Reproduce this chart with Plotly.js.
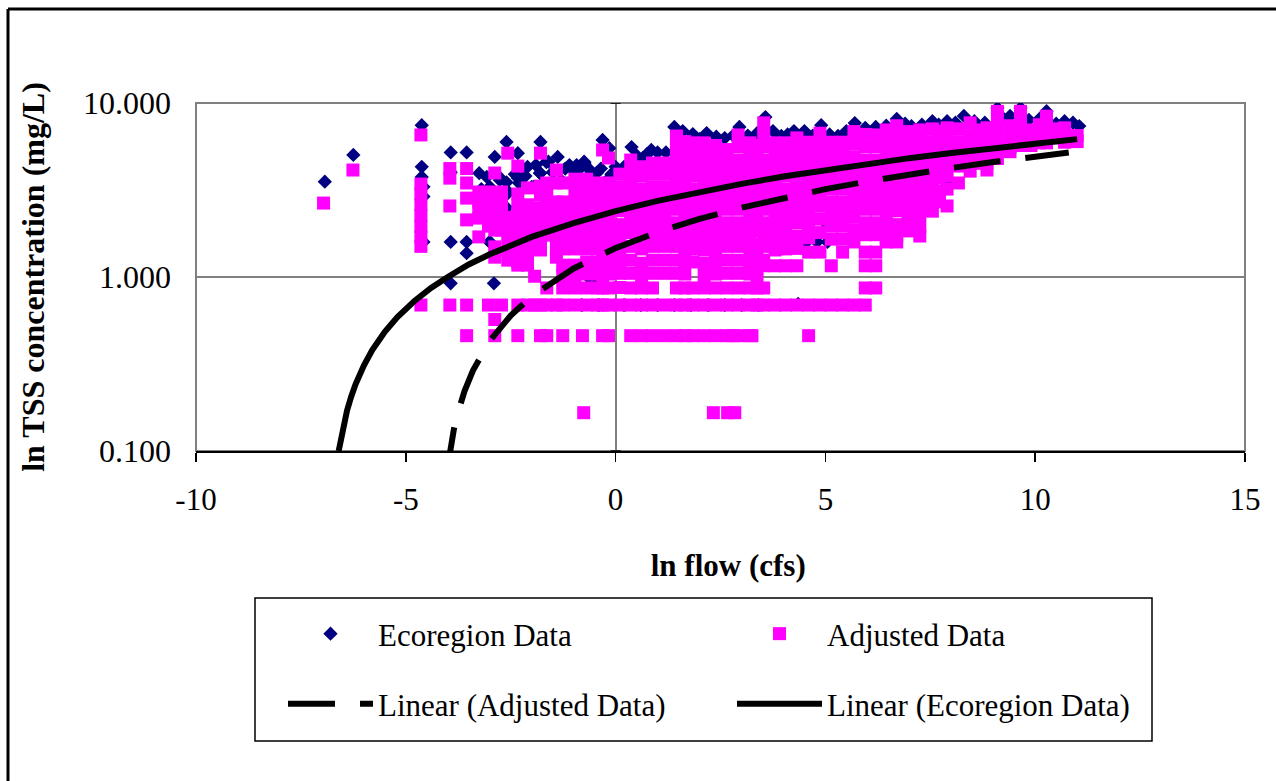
<!DOCTYPE html>
<html><head><meta charset="utf-8">
<script src="https://cdn.plot.ly/plotly-3.0.1.min.js"></script>
<style>html,body{margin:0;padding:0;background:#fff;overflow:hidden}</style>
</head><body><div id="chart" style="width:1276px;height:781px"></div>
<script>
// Adjusted data: x position of each column and the y values read in that column
const adjColumnX = [-6.96,-6.26,-4.64,-3.95,-3.55,-3.26,-3.03,-2.88,-2.72,-2.57,-2.33,-2.1,-1.93,-1.79,-1.64,-1.41,-1.26,-0.97,-0.69,-0.43,-0.31,-0.17,
 0.1,0.36,0.62,0.88,1.17,1.45,1.65,1.84,2.11,2.38,2.65,2.92,3.2,3.37,3.53,3.8,4.05,4.32,4.6,4.87,5.14,5.41,5.68,5.95,6.2,6.45,6.7,6.97,7.25,7.55,7.72,7.9,8.17,8.45,8.65,8.85,9.1,9.4,9.65,9.9,10.1,10.27,10.5,10.7,11.0];
const adjColumnY = [
 [2.66],[4.12],
 [6.55,3.42,3.0,2.6,2.25,1.95,1.7,1.5,0.69],
 [4.2,3.7,2.56,0.69],
 [4.2,3.47,2.84,2.13,0.69,0.46],
 [3.08,2.7,2.36,2.18,1.70],
 [3.08,2.7,2.3,1.96,0.69],
 [3.96,2.96,2.6,2.13,1.86,1.49,1.30,0.57,0.46],
 [3.08,2.84,2.43,2.1,1.86,0.69],
 [5.15,2.2,1.96,1.68,1.43,1.25],
 [4.34,3.0,2.6,2.3,1.96,1.68,1.43,1.22,1.17,0.69,0.46],
 [3.25,2.6,2.27,2.0,1.74,1.53,1.34,1.17,0.69],
 [2.0,1.74,1.53,1.01,0.69],
 [5.15,3.33,2.96,2.5,2.13,1.86,1.63,1.43,0.69,0.46],
 [3.47,2.96,2.6,2.27,1.99,1.74,0.865,0.69,0.46],
 [4.12,3.47,2.7,2.3,1.96,1.68,1.43,1.3,0.69],
 [3.47,2.7,2.3,1.96,1.68,1.45,1.17,1.02,0.865,0.69,0.46],
 [3.65,3.16,2.7,2.3,1.96,1.68,1.45,1.17,1.02,0.865,0.69],
 [3.65,3.16,2.7,2.3,1.96,1.68,1.45,1.22,1.04,0.865,0.69],
 [3.47,3.0,2.6,2.3,1.96,1.68,1.45,1.22,1.04,0.865,0.69],
 [5.37,3.4,2.95,2.55,2.2,1.9,1.62,1.38,1.18,1.0,0.865,0.69,0.46],
 [4.83,3.47,3.0,2.6,2.3,1.96,1.68,1.43,1.22,1.04,0.865,0.69,0.46],
 [3.9,3.3,2.8,2.4,2.0,1.72,1.46,1.24,1.05,0.87,0.69],
 [4.7,4.0,3.4,2.9,2.45,2.1,1.8,1.5,1.25,1.05,0.865,0.69,0.46],
 [4.3,3.8,3.2,2.75,2.35,2.0,1.7,1.45,1.2,1.02,0.865,0.69,0.46],
 [4.52,3.9,3.3,2.8,2.4,2.05,1.75,1.5,1.25,1.05,0.865,0.69,0.46],
 [4.52,3.9,3.3,2.8,2.4,2.05,1.75,1.5,1.25,1.05,0.69,0.46],
 [6.46,5.5,4.7,4.0,3.4,2.9,2.45,2.05,1.75,1.5,1.25,1.05,0.865,0.69,0.46],
 [6.0,5.09,4.34,3.71,3.16,2.7,2.3,1.96,1.68,1.43,1.22,1.04,0.865,0.69,0.46],
 [5.9,5.1,4.4,3.8,3.2,2.75,2.35,2.0,1.7,1.45,1.22,0.865,0.69,0.46],
 [5.9,5.1,4.34,3.71,3.16,2.7,2.3,1.96,1.68,1.43,1.2,1.02,0.865,0.69,0.46],
 [5.7,5.0,4.3,3.7,3.16,2.7,2.3,1.96,1.68,1.43,1.22,1.04,0.865,0.69,0.46],
 [5.4,4.7,4.0,3.4,2.9,2.45,2.05,1.75,1.5,1.25,1.05,0.865,0.69,0.46],
 [6.55,5.6,4.7,4.0,3.4,2.9,2.45,2.05,1.75,1.5,1.25,1.05,0.865,0.69,0.46],
 [5.9,5.09,4.34,3.71,3.16,2.7,2.3,1.96,1.68,1.43,1.22,1.04,0.865,0.69,0.46],
 [5.7,4.9,4.2,3.6,3.05,2.6,2.2,1.85,1.55,1.33,1.12,0.96,0.865,0.69],
 [7.69,6.55,5.6,4.7,4.0,3.4,2.9,2.45,2.05,1.75,1.5,1.25,1.16,0.865,0.69],
 [5.9,5.09,4.34,3.71,3.16,2.7,2.3,1.96,1.68,1.43,1.16,0.69],
 [5.9,5.1,4.4,3.8,3.2,2.75,2.35,2.0,1.7,1.45,1.16,0.69],
 [6.3,5.4,4.6,3.9,3.3,2.8,2.4,2.05,1.72,1.46,1.16,0.69],
 [5.95,5.1,4.34,3.71,3.16,2.7,2.3,1.96,1.68,1.39,0.69,0.46],
 [6.7,5.7,4.8,4.1,3.5,3.0,2.55,2.15,1.8,1.39,0.69],
 [5.95,5.1,4.4,3.75,3.2,2.7,2.3,1.96,1.65,1.16,0.69],
 [5.95,5.1,4.4,3.75,3.2,2.7,2.3,1.96,1.65,1.39,0.69],
 [6.85,5.8,4.9,4.2,3.6,3.05,2.6,2.2,1.85,1.59,0.69],
 [6.6,5.6,4.7,4.0,3.4,2.9,2.45,2.05,1.75,1.39,1.16,0.865,0.69],
 [6.55,5.6,4.7,4.0,3.4,2.9,2.45,2.05,1.75,1.39,1.16,0.865],
 [7.0,5.97,5.09,4.34,3.71,3.16,2.7,2.3,1.96,1.68,1.59],
 [7.4,6.3,5.4,4.6,3.9,3.3,2.8,2.4,2.0,1.72,1.59],
 [6.85,5.8,5.0,4.3,3.7,3.16,2.7,2.3,1.96,1.84],
 [7.0,6.0,5.1,4.34,3.71,3.16,2.7,2.3,1.95,1.72],
 [7.1,6.0,5.1,4.34,3.71,3.16,2.7,2.39],
 [6.9,5.9,5.0,4.3,3.7,3.1,2.7],
 [7.2,6.1,5.2,4.4,3.8,3.2,2.56],
 [7.1,6.0,5.09,4.34,3.47],
 [7.69,6.5,5.6,4.7,4.06],
 [7.0,6.0,5.2,4.5],
 [7.2,6.2,5.3,4.5,4.12],
 [8.95,7.6,6.5,5.6,4.8],
 [7.4,6.4,5.6,5.25],
 [8.95,7.6,6.5,5.7],
 [7.0,6.2,5.7],
 [7.5,6.5,5.9],
 [8.4,7.2,6.2,5.9],
 [7.1,6.3],
 [7.2,6.4,5.95],
 [6.5,6.0]
];
const adjLowX = [2.33,2.67,2.84,-0.76,3.25,2.8,-0.79];
const adjLowY = [0.166,0.166,0.166,0.166,0.46,0.46,0.46];

// Ecoregion data: points that show beyond the Adjusted data
const ecoX = [-6.93,-6.25,-4.62,-4.62,-4.62,-4.58,-4.58,-4.58,-3.93,-3.93,-3.93,-3.93,-3.55,-3.55,-3.55,-3.25,-3.25,-3.0,-2.9,-2.88,-2.75,-2.6,-2.6,-2.33,-2.33,-2.15,-1.95,-1.8,-1.79,-1.6,-1.5,-1.38,-1.1,-1.0,-0.93,-0.93,-0.75,-0.6,-0.31,-0.15,
 -0.74,-0.93,-2.2,-2.3,-3.07,-2.76,-2.0,-2.57,-2.6,-3.24,-0.45,-1.65,-1.8,-1.02,-3.0,-0.55,-0.98,0.1,
 -2.4,-2.1,-1.9,-1.5,-1.2,-0.85,-0.6,-0.35,-0.1,0.3,0.5,0.75,-0.2,-1.3,-0.7,-2.6,-3.0,-3.2,
 0.0,0.2,0.38,0.65,0.85,1.0,1.2,1.4,1.6,1.84,2.0,2.17,2.4,2.6,2.8,2.95,3.15,3.37,3.57,3.75,3.95,4.1,4.25,4.5,4.7,4.9,5.1,5.3,5.5,5.7,5.95,6.2,6.45,6.7,6.9,7.05,7.3,7.55,7.7,7.9,8.1,8.3,8.55,8.8,9.1,9.25,9.4,9.65,9.85,10.1,10.27,10.3,10.5,10.7,10.9,11.05,
 7.9,4.3,4.55,4.8,5.05,5.0,4.35,0.2,0.6,1.0,1.4,1.8,2.2,2.6,3.0,3.4,-0.4,-0.8];
const ecoY = [3.53,5.03,7.45,4.3,3.76,1.59,2.9,3.3,5.2,4.0,1.59,0.92,5.2,1.59,1.37,3.95,2.6,1.59,0.92,4.9,3.71,5.97,3.16,5.15,3.71,3.8,3.3,3.95,5.97,4.6,1.7,4.9,4.4,0.97,4.4,2.6,4.6,0.97,6.13,5.5,
 4.52,4.3,3.76,3.47,3.76,3.61,3.3,3.03,2.5,2.7,3.96,4.58,3.96,4.12,1.59,0.95,0.93,3.96,
 3.9,4.3,4.4,4.0,4.2,4.2,4.1,4.2,3.9,4.2,5.0,5.1,3.6,3.6,3.7,3.5,3.3,3.2,
 4.3,4.3,5.58,4.83,5.37,5.2,5.2,7.28,6.9,6.63,6.2,6.72,6.4,6.29,6.5,7.28,6.5,6.7,8.3,6.9,6.46,6.6,6.9,6.9,6.5,7.46,6.6,6.46,6.9,7.67,7.2,7.28,7.4,8.1,7.6,7.37,7.5,7.86,7.5,7.86,7.7,8.43,7.86,7.7,9.36,8.1,8.43,9.36,8.0,8.1,8.97,6.9,7.6,7.86,7.7,7.37,
 3.42,1.59,1.59,1.59,1.59,2.05,0.7,0.69,0.69,0.69,0.69,0.69,0.69,0.69,0.69,0.69,0.69,0.69];

// Trend lines, read along their drawn paths
const trendEcoX = [-6.6,-6.5,-6.4,-6.3,-6.2,-6.0,-5.8,-5.5,-5.2,-4.8,-4.4,-4.0,-3.5,-3.0,-2.5,-2,-1,0,1,2,3,4,5,6,7,8,9,10,11];
const trendEcoY = [0.10,0.137,0.171,0.206,0.241,0.31,0.38,0.484,0.588,0.726,0.865,1.0,1.18,1.35,1.52,1.70,2.04,2.39,2.74,3.08,3.43,3.78,4.12,4.47,4.82,5.16,5.51,5.86,6.2];
const trendAdjX = [-4.03,-3.95,-3.85,-3.75,-3.6,-3.4,-3.2,-3.0,-2.5,-2,-1,0,1,2,3,4,5,6,7,8,9,10,10.8];
const trendAdjY = [0.074,0.10,0.135,0.169,0.221,0.290,0.359,0.429,0.601,0.774,1.12,1.466,1.81,2.16,2.50,2.85,3.20,3.54,3.89,4.23,4.58,4.92,5.20];

const names = ['Ecoregion Data','Adjusted Data','Linear (Adjusted Data)','Linear (Ecoregion Data)'];
const xTickVals = [-10,-5,0,5,10,15];
const xTickText = ['-10','-5','0','5','10','15'];
const yTickVals = [0.1,1,10];
const yTickText = ['0.100','1.000','10.000'];

const adjX = [], adjY = [];
adjColumnX.forEach((x,i)=>adjColumnY[i].forEach(y=>{adjX.push(x);adjY.push(y);}));
adjLowX.forEach((x,i)=>{adjX.push(x);adjY.push(adjLowY[i]);});

const serif = '"Liberation Serif","Times New Roman",serif';
const L = 196, R = 1245, T = 103, B = 451;
const px = v => (v-L)/(R-L), py = v => 1-(v-T)/(B-T);
const traces = [
 {x:ecoX,y:ecoY,name:names[0],mode:'markers',type:'scatter',legend:'legend',
  marker:{symbol:'diamond',size:11,color:'#000080'}},
 {x:adjX,y:adjY,name:names[1],mode:'markers',type:'scatter',legend:'legend2',
  marker:{symbol:'square',size:13,color:'#FF00FF'}},
 {x:trendAdjX,y:trendAdjY,name:names[2],mode:'lines',type:'scatter',legend:'legend3',
  line:{color:'#000',width:6,dash:'47px,25px'}},
 {x:trendEcoX,y:trendEcoY,name:names[3],mode:'lines',type:'scatter',legend:'legend4',
  line:{color:'#000',width:6}}
];
const leg = (x,y)=>({x:px(x),y:py(y),xanchor:'left',yanchor:'middle',bgcolor:'rgba(0,0,0,0)',borderwidth:0,
  itemwidth:85,font:{family:serif,size:31,color:'#000'},itemclick:false});
const layout = {
 width:1276,height:781,margin:{l:L,r:1276-R,t:T,b:781-B},
 paper_bgcolor:'#fff',plot_bgcolor:'#fff',showlegend:true,
 font:{family:serif,color:'#000'},
 xaxis:{range:[-10,15],tickmode:'array',tickvals:xTickVals,ticktext:xTickText,ticks:'outside',ticklen:9,tickwidth:1.5,tickcolor:'#000',
  showline:true,linecolor:'#000',linewidth:2,showgrid:false,zeroline:true,zerolinecolor:'#808080',zerolinewidth:2,ticklabelstandoff:11,
  tickfont:{family:serif,size:31},title:{text:'<b>&nbsp;&nbsp;ln flow (cfs)</b>',font:{family:serif,size:31},standoff:38},automargin:false},
 yaxis:{type:'log',range:[-1,1],tickmode:'array',tickvals:yTickVals,ticktext:yTickText,ticks:'',
  showline:false,showgrid:true,gridcolor:'#808080',gridwidth:2,zeroline:false,ticklabelstandoff:24,
  tickfont:{family:serif,size:32},automargin:false,
  title:{text:'<b>ln TSS concentration (mg/L)</b>',font:{family:serif,size:32},standoff:28}},
 legend:leg(283,634),legend2:leg(732,634),legend3:leg(283,704),legend4:leg(732,704),
 shapes:[
  {type:'rect',xref:'paper',yref:'paper',x0:0,x1:1,y0:0,y1:1,line:{color:'#808080',width:2},layer:'below'},
  {type:'line',xref:'paper',yref:'paper',x0:px(8),x1:px(8),y0:py(9),y1:py(781),line:{color:'#000',width:3}},
  {type:'line',xref:'paper',yref:'paper',x0:px(8),x1:px(1276),y0:py(9),y1:py(9),line:{color:'#000',width:3}},
  {type:'rect',xref:'paper',yref:'paper',x0:px(255),x1:px(1152),y0:py(598),y1:py(741),line:{color:'#000',width:1.5}},
  {type:'line',xref:'x',yref:'y',x0:-0.12,x1:0.12,y0:10,y1:10,line:{color:'#000',width:1.5}},
  {type:'line',xref:'x',yref:'y',x0:-0.12,x1:0.12,y0:1,y1:1,line:{color:'#000',width:1.5},layer:'below'},
  {type:'line',xref:'x',yref:'y',x0:-0.12,x1:0.12,y0:0.1,y1:0.1,line:{color:'#000',width:1.5}}
 ]
};
Plotly.newPlot('chart',traces,layout,{displayModeBar:false,staticPlot:true});
</script></body></html>
